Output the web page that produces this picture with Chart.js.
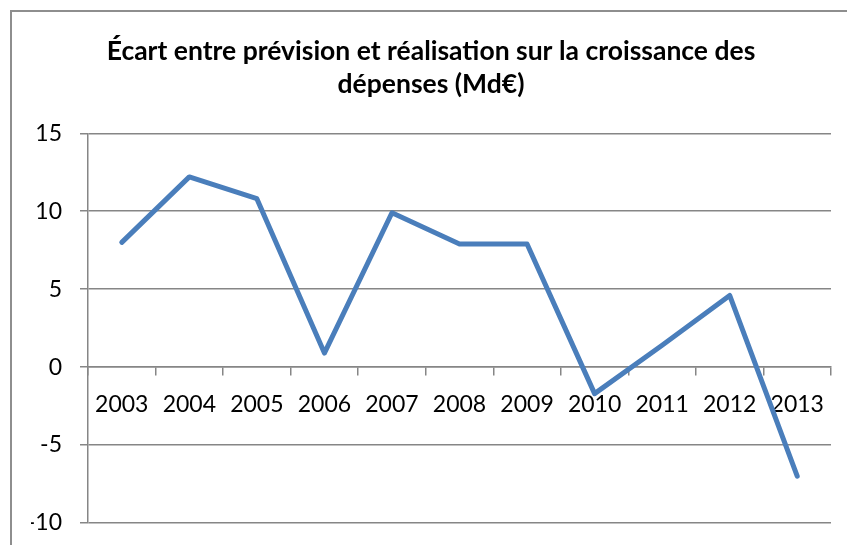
<!DOCTYPE html>
<html>
<head>
<meta charset="utf-8">
<script src="https://cdn.jsdelivr.net/npm/chart.js@4/dist/chart.umd.min.js"></script>
<style>
   html, body { margin: 0; padding: 0; background: #fff; overflow: hidden; }
   #frame {
      position: absolute;
      left: 10px;
      top: 10px;
      width: 838px;
      height: 543px;
      border-left: 2px solid #8e8e8e;
      border-top: 2px solid #8e8e8e;
   }
   canvas { display: block; }
</style>
</head>
<body>
<div id="frame"><canvas id="chart" width="838" height="543"></canvas></div>
<script>
const years = ["2003", "2004", "2005", "2006", "2007", "2008", "2009", "2010", "2011", "2012", "2013"];
const ecart = [8.0, 12.2, 10.8, 0.9, 9.9, 7.9, 7.9, -1.7, 1.4, 4.6, -7.0];
const titleLines = ["Écart entre prévision et réalisation sur la croissance des", "dépenses (Md€)"];

const gridGray = "#868686";
const tickFont = { family: "Lato", size: 23 };

const ctx = document.getElementById("chart").getContext("2d");

new Chart(ctx, {
   type: "line",
   data: {
      labels: years,
      datasets: [
         {
            label: "Écart",
            data: ecart,
            borderColor: "#4a7ebb",
            backgroundColor: "#4a7ebb",
            borderWidth: 5,
            borderCapStyle: "round",
            borderJoinStyle: "round",
            pointRadius: 0,
            tension: 0,
         },
      ],
   },
   options: {
      responsive: false,
      animation: false,
      layout: {
         // the frame runs off the right and bottom of the window
         padding: { left: 19, right: 19, top: 0, bottom: 32 },
      },
      plugins: {
         legend: { display: false },
         tooltip: { enabled: false },
         title: {
            display: true,
            text: titleLines,
            color: "#000",
            font: { family: "Lato", size: 26.5, weight: "bold", lineHeight: 1.25 },
            padding: { top: 23, bottom: 32 },
         },
      },
      scales: {
         x: {
            type: "category",
            position: { y: 0 },
            offset: true,
            afterFit: (scale) => {
               scale.height = 0;
            },
            grid: {
               offset: true,
               drawOnChartArea: false,
               drawTicks: true,
               tickLength: 8,
               color: gridGray,
               lineWidth: 1.5,
            },
            border: { display: true, color: gridGray, width: 1.5 },
            ticks: {
               color: "#000",
               font: tickFont,
               padding: 16,
               maxRotation: 0,
               autoSkip: false,
            },
         },
         y: {
            min: -10,
            max: 15,
            afterFit: (scale) => {
               scale.width = 57;
            },
            grid: {
               color: gridGray,
               lineWidth: 1.5,
               tickLength: 8,
            },
            border: { display: true, color: gridGray, width: 1.5 },
            ticks: {
               stepSize: 5,
               color: "#000",
               font: tickFont,
               padding: 18,
            },
         },
      },
   },
});
</script>
</body>
</html>
